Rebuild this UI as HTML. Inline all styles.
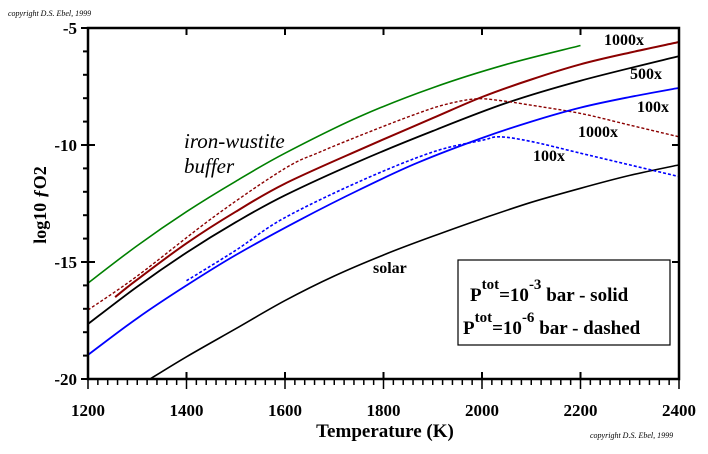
<!DOCTYPE html>
<html><head><meta charset="utf-8"><style>
body{margin:0;background:#fff}
svg{display:block;font-family:"Liberation Serif",serif}
</style></head><body>
<svg id="c" width="708" height="454" xmlns="http://www.w3.org/2000/svg"></svg>
<script>
const xTicks=[1200,1400,1600,1800,2000,2200,2400];
const yTicks=[-5,-10,-15,-20];
const iwT=[1200,1300,1400,1500,1600,1750,1900,2050,2200];
const iwV=[-15.9,-14.3,-12.85,-11.55,-10.35,-8.8,-7.55,-6.55,-5.75];
const r1000sT=[1255,1300,1400,1500,1600,1752,1900,2000,2100,2200,2300,2400];
const r1000sV=[-16.5,-15.75,-14.2,-12.85,-11.65,-10.2,-8.85,-7.95,-7.2,-6.55,-6.05,-5.6];
const r1000dT=[1200,1300,1460,1600,1671,1752,1850,1920,1986,2036,2100,2200,2300,2400];
const r1000dV=[-17.05,-15.6,-13.0,-11.0,-10.3,-9.6,-8.8,-8.3,-8.03,-8.1,-8.3,-8.65,-9.15,-9.65];
const b500T=[1200,1300,1400,1500,1600,1750,1900,2050,2200,2400];
const b500V=[-17.65,-16.05,-14.6,-13.3,-12.15,-10.7,-9.4,-8.2,-7.25,-6.2];
const b100sT=[1200,1300,1400,1500,1630,1752,1870,2000,2100,2200,2300,2400];
const b100sV=[-18.97,-17.4,-16.0,-14.7,-13.2,-11.9,-10.75,-9.7,-9.0,-8.4,-7.95,-7.56];
const b100dT=[1400,1500,1596,1752,1900,2000,2036,2100,2200,2300,2400];
const b100dV=[-15.8,-14.5,-13.15,-11.55,-10.3,-9.8,-9.65,-9.85,-10.35,-10.85,-11.35];
const solarT=[1326,1400,1500,1600,1700,1800,1900,2000,2100,2200,2300,2400];
const solarV=[-20,-19.05,-17.85,-16.65,-15.6,-14.7,-13.9,-13.15,-12.45,-11.85,-11.3,-10.85];

const L=88,R=679,T=28,B=379;
const xs=t=>L+(t-1200)/1200*(R-L);
const ys=v=>T+(-5-v)/15*(B-T);
const NS="http://www.w3.org/2000/svg";
const svg=document.getElementById('c');
function mk(tag,attrs,parent){const e=document.createElementNS(NS,tag);for(const k in attrs)e.setAttribute(k,attrs[k]);(parent||svg).appendChild(e);return e;}
function txt(s,attrs){const e=mk('text',attrs);e.textContent=s;return e;}

function smoothPath(pts){
  let d='M'+pts[0][0].toFixed(1)+','+pts[0][1].toFixed(1);
  for(let i=0;i<pts.length-1;i++){
    const p0=pts[i-1]||pts[i],p1=pts[i],p2=pts[i+1],p3=pts[i+2]||p2;
    const c1=[p1[0]+(p2[0]-p0[0])/6,p1[1]+(p2[1]-p0[1])/6];
    const c2=[p2[0]-(p3[0]-p1[0])/6,p2[1]-(p3[1]-p1[1])/6];
    d+='C'+c1[0].toFixed(1)+','+c1[1].toFixed(1)+' '+c2[0].toFixed(1)+','+c2[1].toFixed(1)+' '+p2[0].toFixed(1)+','+p2[1].toFixed(1);
  }
  return d;
}
function series(tx,vx,color,dash,w,name){
  const pts=tx.map((t,i)=>[xs(t),ys(vx[i])]);
  const p=mk('path',{d:smoothPath(pts),fill:'none',stroke:color,'stroke-width':w});
  if(dash)p.setAttribute('stroke-dasharray',dash);
  
  
}
series(iwT,iwV,'#008000',null,1.6,'iron-wustite-line');
series(solarT,solarV,'#000',null,1.6,'solar-line');
series(b500T,b500V,'#000',null,1.8,'500x-solid-line');
series(r1000dT,r1000dV,'#8b0000','3,2',1.4,'1000x-dashed-line');
series(r1000sT,r1000sV,'#8b0000',null,2,'1000x-solid-line');
series(b100dT,b100dV,'#0000ff','3,2',1.6,'100x-dashed-line');
series(b100sT,b100sV,'#0000ff',null,1.8,'100x-solid-line');

const fr=mk('rect',{x:L,y:T,width:R-L,height:B-T,fill:'none',stroke:'#000','stroke-width':2.5});


for(let t=1200;t<=2400;t+=20){const x=xs(t);const maj=(t%200===0);
  mk('line',{x1:x,y1:B,x2:x,y2:B+(maj?10:6),stroke:'#000','stroke-width':1.5});
  if(maj){mk('line',{x1:x,y1:B,x2:x,y2:B-7,stroke:'#000','stroke-width':2});mk('line',{x1:x,y1:T,x2:x,y2:T+7,stroke:'#000','stroke-width':2});}
}
xTicks.forEach(t=>{const e=txt(t,{x:xs(t),y:416,'text-anchor':'middle','font-size':17,'font-weight':'bold'});
  
  });
for(let v=-5;v>=-20;v--){const y=ys(v);const maj=(v%5===0);
  mk('line',{x1:L-(maj?7:5),y1:y,x2:L+(maj?7:0),y2:y,stroke:'#000','stroke-width':2});
  if(maj)mk('line',{x1:R-7,y1:y,x2:R,y2:y,stroke:'#000','stroke-width':2});
}
yTicks.forEach(v=>{const e=txt(v,{x:77,y:ys(v)+6,'text-anchor':'end','font-size':17,'font-weight':'bold'});
  
  });
</script>
<div style="position:absolute;left:0;top:0;width:708px;height:454px;pointer-events:none;font-family:'Liberation Serif',serif">
<svg width="708" height="454" xmlns="http://www.w3.org/2000/svg" style="position:absolute;left:0;top:0;font-family:'Liberation Serif',serif">
<text transform="translate(46,205) rotate(-90)" text-anchor="middle" font-size="18" font-weight="bold">log10 <tspan font-style="italic">ƒ</tspan>O2</text>
<text x="385" y="437" text-anchor="middle" font-size="19" font-weight="bold">Temperature (K)</text>
<text x="8" y="16" font-size="8" font-style="italic">copyright D.S. Ebel, 1999</text>
<text x="590" y="438" font-size="8" font-style="italic">copyright D.S. Ebel, 1999</text>
<text x="184" y="148" font-size="21" font-style="italic">iron-wustite</text>
<text x="184" y="173" font-size="21" font-style="italic">buffer</text>
<text x="373" y="273" font-size="16" font-weight="bold">solar</text>
<text x="604" y="45" font-size="16" font-weight="bold">1000x</text>
<text x="630" y="79" font-size="16" font-weight="bold">500x</text>
<text x="637" y="112" font-size="16" font-weight="bold">100x</text>
<text x="578" y="137" font-size="16" font-weight="bold">1000x</text>
<text x="533" y="161" font-size="16" font-weight="bold">100x</text>
<g>
<rect x="458" y="260" width="212" height="85" fill="#fff" stroke="#000" stroke-width="1.2"/>
<text x="470" y="301" font-size="19" font-weight="bold">P<tspan dy="-12" font-size="15">tot</tspan><tspan dy="12">=10</tspan><tspan dy="-12" font-size="15">-3</tspan><tspan dy="12"> bar - solid</tspan></text>
<text x="463" y="334" font-size="19" font-weight="bold">P<tspan dy="-12" font-size="15">tot</tspan><tspan dy="12">=10</tspan><tspan dy="-12" font-size="15">-6</tspan><tspan dy="12"> bar - dashed</tspan></text>
</g>
</svg></div>
</body></html>
